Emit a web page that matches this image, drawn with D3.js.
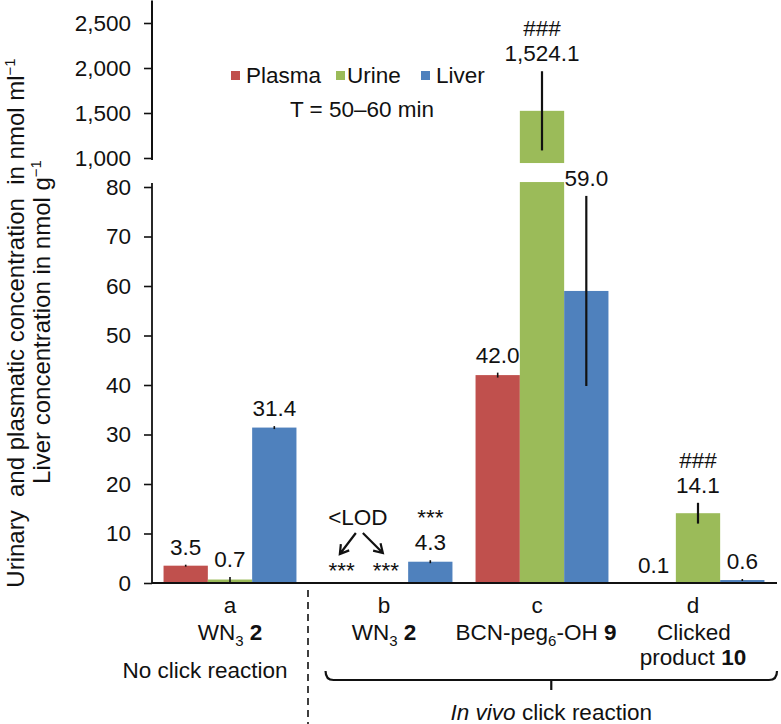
<!DOCTYPE html>
<html>
<head>
<meta charset="utf-8">
<script src="https://cdn.jsdelivr.net/npm/d3@7"></script>
<style>
  html, body { margin: 0; padding: 0; background: #fff; }
  svg { display: block; }
  text { font-family: "Liberation Sans", Arial, Helvetica, sans-serif; fill: #111; }
</style>
</head>
<body>
<svg id="chart" width="781" height="724"></svg>
<script>
// ---------------- data ----------------
const categories = ["a", "b", "c", "d"];
const series = ["Plasma", "Urine", "Liver"];
const plasma = [3.5, null, 42.0, 0.1];
const urine = [0.7, null, 1524.1, 14.1];
const liver = [31.4, 4.3, 59.0, 0.6];
const plasmaErr = [0.2, 0, 0.5, 0];
const urineErr = [0.5, 0, 440, 2.1];
const liverErr = [0.3, 0.3, 19.2, 0.2];
const plasmaSig = ["", "***", "", ""];
const urineSig = ["", "***", "###", "###"];
const liverSig = ["", "***", "", ""];
const lowerTicks = [0, 10, 20, 30, 40, 50, 60, 70, 80];
const upperTicks = [1000, 1500, 2000, 2500];
const catLetters = ["a", "b", "c", "d"];
const groupLeft = "No click reaction";
const groupRight = ["In vivo", " click reaction"];
const timeLabel = "T = 50\u201360 min";
const lodLabel = "<LOD";

const colors = { Plasma: "#C0504D", Urine: "#9BBB59", Liver: "#4F81BD" };
const values = { Plasma: plasma, Urine: urine, Liver: liver };
const errors = { Plasma: plasmaErr, Urine: urineErr, Liver: liverErr };
const sigs = { Plasma: plasmaSig, Urine: urineSig, Liver: liverSig };

// ---------------- layout ----------------
const svg = d3.select("#chart");
const FS = 22.5;
const lowerMax = 81;     // top of lower panel (value units)
const upperMin = 944;    // bottom of upper panel (value units)

const x0 = d3.scaleBand().domain(categories).range([152, 776]).paddingInner(0.148).paddingOuter(0.074);
const x1 = d3.scaleBand().domain(series).range([0, x0.bandwidth()]);
const yLow = d3.scaleLinear().domain([0, 80]).range([583, 187]);
const yUp = d3.scaleLinear().domain([1000, 2500]).range([158, 23]);
const axisX = 152;

// ---------------- bars ----------------
const rows = [];
categories.forEach((c, i) => series.forEach(s => {
  rows.push({ c, i, s, v: values[s][i], e: errors[s][i], sig: sigs[s][i] });
}));

const gBars = svg.append("g");
rows.filter(d => d.v !== null).forEach(d => {
  const bx = x0(d.c) + x1(d.s);
  const bw = x1.bandwidth();
  if (d.v > lowerMax) {
    gBars.append("rect").attr("x", bx).attr("width", bw)
      .attr("y", yLow(lowerMax)).attr("height", yLow(0) - yLow(lowerMax)).attr("fill", colors[d.s]);
    gBars.append("rect").attr("x", bx).attr("width", bw)
      .attr("y", yUp(d.v)).attr("height", yUp(upperMin) - yUp(d.v)).attr("fill", colors[d.s]);
  } else {
    gBars.append("rect").attr("x", bx).attr("width", bw)
      .attr("y", yLow(d.v)).attr("height", Math.max(0.6, yLow(0) - yLow(d.v))).attr("fill", colors[d.s]);
  }
});

// error bars
rows.filter(d => d.v !== null && d.e > 0).forEach(d => {
  const cx = x0(d.c) + x1(d.s) + x1.bandwidth() / 2;
  const sc = d.v > lowerMax ? yUp : yLow;
  svg.append("line").attr("x1", cx).attr("x2", cx)
    .attr("y1", sc(d.v + d.e)).attr("y2", sc(Math.max(0, d.v - d.e)))
    .attr("stroke", "#111").attr("stroke-width", d.e > 1 ? 2.2 : 1.6);
});

// ---------------- axes ----------------
function styleAxis(g) {
  g.select(".domain").remove();
  g.selectAll(".tick line").attr("stroke", "#111").attr("stroke-width", 1.6);
  g.selectAll(".tick text").style("font-size", FS + "px").attr("fill", "#111")
    .style("font-family", '"Liberation Sans", Arial, Helvetica, sans-serif');
}
svg.append("g").attr("transform", `translate(${axisX},0)`)
  .call(d3.axisLeft(yLow).tickValues(lowerTicks).tickSize(8).tickPadding(13).tickFormat(d3.format(",")))
  .call(styleAxis);
svg.append("g").attr("transform", `translate(${axisX},0)`)
  .call(d3.axisLeft(yUp).tickValues(upperTicks).tickSize(8).tickPadding(13).tickFormat(d3.format(",")))
  .call(styleAxis);

// axis lines
svg.append("line").attr("x1", axisX).attr("x2", axisX).attr("y1", yLow(0)).attr("y2", yLow(lowerMax) + 1)
  .attr("stroke", "#111").attr("stroke-width", 1.8);
svg.append("line").attr("x1", axisX).attr("x2", axisX).attr("y1", yUp(978)).attr("y2", yUp(2750))
  .attr("stroke", "#111").attr("stroke-width", 2);
svg.append("line").attr("x1", x0.range()[0]).attr("x2", x0.range()[1] + 1)
  .attr("y1", yLow(0)).attr("y2", yLow(0)).attr("stroke", "#111").attr("stroke-width", 1.8);

// ---------------- value labels ----------------
const fmt = d3.format(",.1f");
const gLab = svg.append("g").style("font-size", FS + "px").attr("text-anchor", "middle");
rows.forEach(d => {
  const cx = x0(d.c) + x1(d.s) + x1.bandwidth() / 2;
  if (d.v !== null) {
    const sc = d.v > lowerMax ? yUp : yLow;
    const ly = sc(d.v + d.e) - 10;
    gLab.append("text").attr("x", cx).attr("y", ly).text(fmt(d.v));
    if (d.sig) gLab.append("text").attr("x", cx).attr("y", ly - 25).text(d.sig);
  } else if (d.sig) {
    gLab.append("text").attr("x", cx).attr("y", yLow(0) - 5).text(d.sig);
  }
});

// <LOD and arrows
const lodX = x0("b") + x1("Urine") - 6;
const lodY = yLow(0) - 58;
gLab.append("text").attr("x", lodX).attr("y", lodY).text(lodLabel);
function arrow(xs, ys, xe, ye) {
  const a = Math.atan2(ye - ys, xe - xs);
  const L = 10, w = 0.55;
  const p1 = [xe - L * Math.cos(a - w), ye - L * Math.sin(a - w)];
  const p2 = [xe - L * Math.cos(a + w), ye - L * Math.sin(a + w)];
  svg.append("path")
    .attr("d", `M${xs},${ys}L${xe},${ye}M${p1[0]},${p1[1]}L${xe},${ye}L${p2[0]},${p2[1]}`)
    .attr("fill", "none").attr("stroke", "#111").attr("stroke-width", 2.2).attr("stroke-linejoin", "miter");
}
arrow(lodX - 2, lodY + 8, lodX - 18, lodY + 29);
arrow(lodX + 5, lodY + 8, lodX + 25, lodY + 28);

// ---------------- legend ----------------
const legX = [231, 336, 421];
series.forEach((s, i) => {
  svg.append("rect").attr("x", legX[i]).attr("y", 71).attr("width", 9).attr("height", 9).attr("fill", colors[s]);
  svg.append("text").attr("x", legX[i] + (i === 1 ? 11 : 15)).attr("y", 83).style("font-size", FS + "px").text(s);
});
svg.append("text").attr("x", 362).attr("y", 117).attr("text-anchor", "middle").style("font-size", FS + "px").text(timeLabel);

// ---------------- y-axis title ----------------
const t1 = svg.append("text").attr("transform", "translate(24,323) rotate(-90)")
  .attr("text-anchor", "middle").style("font-size", "24px");
t1.append("tspan").text("Urinary \u00a0and plasmatic concentration \u00a0in nmol ml");
t1.append("tspan").attr("dy", -9).style("font-size", "15px").text("\u22121");
const t2 = svg.append("text").attr("transform", "translate(50,322) rotate(-90)")
  .attr("text-anchor", "middle").style("font-size", "24px");
t2.append("tspan").text("Liver concentration in nmol g");
t2.append("tspan").attr("dy", -9).style("font-size", "15px").text("\u22121");

// ---------------- category labels ----------------
const gCat = svg.append("g").style("font-size", FS + "px").attr("text-anchor", "middle");
const cxOf = c => x0(c) + x0.bandwidth() / 2;
const catShift = [0, -2, -5, -5];
categories.forEach((c, i) => {
  gCat.append("text").attr("x", cxOf(c) + catShift[i]).attr("y", 613).text(catLetters[i]);
});
function subLabel(cx, y, parts) {
  const t = gCat.append("text").attr("x", cx).attr("y", y);
  parts.forEach(p => {
    const ts = t.append("tspan").text(p.t);
    if (p.sub) ts.attr("dy", 6).style("font-size", "15px");
    if (p.back) ts.attr("dy", -6);
    if (p.bold) ts.style("font-weight", "bold");
  });
}
subLabel(cxOf("a"), 640, [{ t: "WN" }, { t: "3", sub: true }, { t: " ", back: true }, { t: "2", bold: true }]);
subLabel(cxOf("b") - 2, 640, [{ t: "WN" }, { t: "3", sub: true }, { t: " ", back: true }, { t: "2", bold: true }]);
subLabel(cxOf("c") - 6, 640, [{ t: "BCN-peg" }, { t: "6", sub: true }, { t: "-OH ", back: true }, { t: "9", bold: true }]);
subLabel(cxOf("d") - 4, 640, [{ t: "Clicked" }]);
subLabel(cxOf("d") - 5, 665, [{ t: "product " }, { t: "10", bold: true }]);

// group labels
const sepX = x0("b") - x0.step() * x0.paddingInner() / 2;
svg.append("line").attr("x1", sepX).attr("x2", sepX).attr("y1", 590).attr("y2", 724)
  .attr("stroke", "#111").attr("stroke-width", 1.6).attr("stroke-dasharray", "7,5");
svg.append("text").attr("x", 205).attr("y", 678).attr("text-anchor", "middle").style("font-size", FS + "px").text(groupLeft);

const bL = x0("b") + 6, bR = x0.range()[1] + 1, bC = (bL + bR) / 2, bY = 680;
svg.append("path")
  .attr("d", `M${bL},${bY - 9}Q${bL},${bY} ${bL + 8},${bY}L${bR - 8},${bY}Q${bR},${bY} ${bR},${bY - 9}M${bC},${bY}L${bC},${bY + 10}`)
  .attr("fill", "none").attr("stroke", "#111").attr("stroke-width", 2.2);
const gt = svg.append("text").attr("x", bC).attr("y", 720).attr("text-anchor", "middle").style("font-size", FS + "px");
gt.append("tspan").style("font-style", "italic").text(groupRight[0]);
gt.append("tspan").text(groupRight[1]);
</script>
</body>
</html>
